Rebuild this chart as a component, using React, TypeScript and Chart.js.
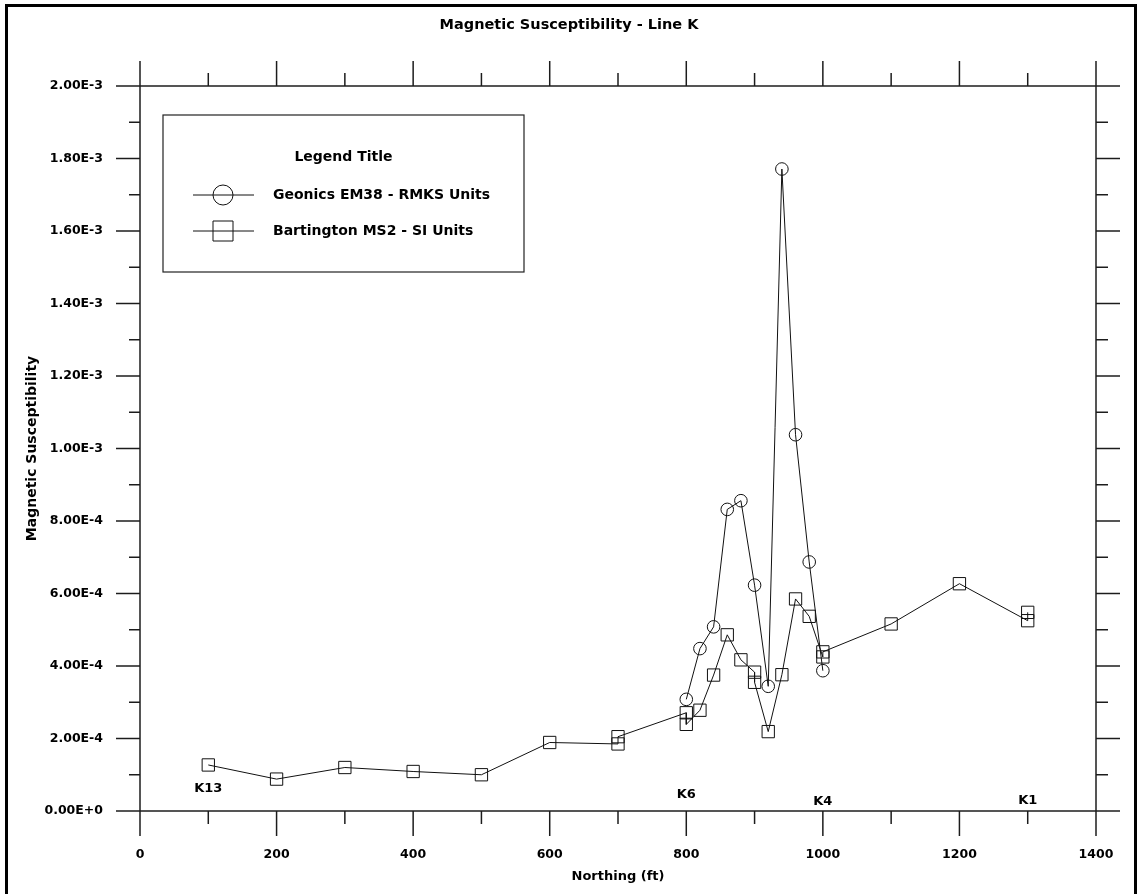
import React, { useEffect, useRef } from 'react';
import { Chart, registerables } from 'chart.js';

Chart.register(...registerables);

// ---------- text ----------
const TITLE = 'Magnetic Susceptibility - Line K';
const X_TITLE = 'Northing (ft)';
const Y_TITLE = 'Magnetic Susceptibility';
const LEGEND_TITLE = 'Legend Title';
const SERIES_NAMES = ['Geonics EM38 - RMKS Units', 'Bartington MS2 - SI Units'];

// ---------- data ----------
const EM38_X = [800, 820, 840, 860, 880, 900, 920, 940, 960, 980, 1000];
const EM38_Y = [3.08e-4, 4.48e-4, 5.08e-4, 8.32e-4, 8.56e-4, 6.23e-4, 3.44e-4, 1.771e-3, 1.038e-3, 6.87e-4, 3.87e-4];

const MS2_X = [100, 200, 300, 400, 500, 600, 700, 700, 800, 800, 820, 840, 860, 880, 900, 900, 920, 940, 960, 980, 1000, 1000, 1100, 1200, 1300, 1300];
const MS2_Y = [1.27e-4, 0.88e-4, 1.2e-4, 1.09e-4, 1.0e-4, 1.89e-4, 1.85e-4, 2.05e-4, 2.71e-4, 2.39e-4, 2.78e-4, 3.75e-4, 4.86e-4, 4.17e-4, 3.83e-4, 3.55e-4, 2.19e-4, 3.76e-4, 5.85e-4, 5.37e-4, 4.25e-4, 4.39e-4, 5.16e-4, 6.27e-4, 5.25e-4, 5.48e-4];

// station markers written under the curve
const STATION_NAMES = ['K13', 'K6', 'K4', 'K1'];
const STATION_X = [100, 800, 1000, 1300];
const STATION_Y = [0.61e-4, 0.44e-4, 0.26e-4, 0.3e-4];

// ---------- axes ----------
const X_MIN = 0;
const X_MAX = 1400;
const X_MAJOR = 200;
const X_MINOR = 100;
const Y_MIN = 0;
const Y_MAX = 0.002;
const Y_MAJOR_EVERY = 2; // every second minor step is a labelled tick
const Y_MINOR = 0.0001;

const FONT = "'DejaVu Sans', 'Liberation Sans', Arial, sans-serif";
const INK = '#111';
const CLEAR = 'rgba(0,0,0,0)';

const frameTicksPlugin = {
  id: 'frameTicks',
  beforeDatasetsDraw(chart: any) {
    const { ctx, chartArea: a, scales } = chart;
    const xs = scales.x;
    const ys = scales.y;
    ctx.save();
    ctx.strokeStyle = '#1c1c1c';
    ctx.lineWidth = 1.5;
    ctx.lineCap = 'butt';
    const seg = (x1: number, y1: number, x2: number, y2: number) => {
      ctx.beginPath();
      ctx.moveTo(x1, y1);
      ctx.lineTo(x2, y2);
      ctx.stroke();
    };
    // frame
    seg(a.left, a.top, a.right, a.top);
    seg(a.left, a.bottom, a.right, a.bottom);
    seg(a.left, a.top, a.left, a.bottom);
    seg(a.right, a.top, a.right, a.bottom);
    // x ticks (bottom outward down, top outward up)
    const nx = Math.round((X_MAX - X_MIN) / X_MINOR);
    for (let i = 0; i <= nx; i++) {
      const v = X_MIN + i * X_MINOR;
      const px = xs.getPixelForValue(v);
      const major = Math.round(v) % X_MAJOR === 0;
      const len = major ? 25 : 13;
      seg(px, a.bottom, px, a.bottom + len);
      seg(px, a.top, px, a.top - len);
    }
    // y ticks (left outward left, right outward right)
    const ny = Math.round((Y_MAX - Y_MIN) / Y_MINOR);
    for (let i = 0; i <= ny; i++) {
      const v = Y_MIN + i * Y_MINOR;
      const py = ys.getPixelForValue(v);
      const major = i % Y_MAJOR_EVERY === 0;
      seg(a.left, py, a.left - (major ? 24 : 11), py);
      seg(a.right, py, a.right + (major ? 24 : 12), py);
    }
    ctx.restore();
  },
  afterDatasetsDraw(chart: any) {
    const { ctx, scales } = chart;
    const xs = scales.x;
    const ys = scales.y;
    ctx.save();
    // station labels
    ctx.fillStyle = '#000';
    ctx.font = `bold 13px ${FONT}`;
    ctx.textAlign = 'center';
    ctx.textBaseline = 'middle';
    STATION_NAMES.forEach((name, i) => {
      ctx.fillText(name, xs.getPixelForValue(STATION_X[i]), ys.getPixelForValue(STATION_Y[i]));
    });

    // legend box
    const L = 163, T = 115, R = 524, B = 272;
    ctx.strokeStyle = '#222';
    ctx.lineWidth = 1.2;
    ctx.strokeRect(L, T, R - L, B - T);
    ctx.font = `bold 14px ${FONT}`;
    ctx.textAlign = 'center';
    ctx.fillText(LEGEND_TITLE, (L + R) / 2, 157);
    const rows = [195, 231];
    chart.data.datasets.forEach((ds: any, i: number) => {
      const y = rows[i];
      ctx.strokeStyle = INK;
      ctx.lineWidth = 1;
      ctx.beginPath();
      ctx.moveTo(193, y);
      ctx.lineTo(254, y);
      ctx.stroke();
      ctx.beginPath();
      if (ds.pointStyle === 'rect') {
        ctx.rect(213, y - 10, 20, 20);
      } else {
        ctx.arc(223, y, 10, 0, Math.PI * 2);
      }
      ctx.stroke();
      ctx.textAlign = 'left';
      ctx.fillText(ds.label, 273, y);
    });
    ctx.restore();
  },
};

export default function App() {
  const canvasRef = useRef<HTMLCanvasElement | null>(null);

  useEffect(() => {
    const canvas = canvasRef.current;
    if (!canvas) return;
    Chart.defaults.font.family = FONT;
    const tickFont = { size: 12.5, weight: 'bold' as const, family: FONT };
    // invisible tick marks that only reserve the space between axis and labels
    const spacerGrid = (len: number) => ({
      display: true,
      drawOnChartArea: false,
      drawTicks: true,
      tickLength: len,
      color: CLEAR,
      tickColor: CLEAR,
    });

    const chart = new Chart(canvas, {
      type: 'scatter',
      data: {
        datasets: [
          {
            label: SERIES_NAMES[0],
            data: EM38_X.map((x, i) => ({ x, y: EM38_Y[i] })),
            showLine: true,
            borderColor: INK,
            borderWidth: 1,
            tension: 0,
            pointStyle: 'circle',
            pointRadius: 6.3,
            pointBorderWidth: 1,
            pointBorderColor: INK,
            pointBackgroundColor: CLEAR,
            xAxisID: 'x',
            yAxisID: 'y',
          },
          {
            label: SERIES_NAMES[1],
            data: MS2_X.map((x, i) => ({ x, y: MS2_Y[i] })),
            showLine: true,
            borderColor: INK,
            borderWidth: 1,
            tension: 0,
            pointStyle: 'rect',
            pointRadius: 8.7,
            pointBorderWidth: 1,
            pointBorderColor: INK,
            pointBackgroundColor: CLEAR,
            xAxisID: 'x',
            yAxisID: 'y',
          },
        ],
      },
      options: {
        animation: false,
        responsive: false,
        devicePixelRatio: 1,
        layout: { padding: 0 },
        clip: false as any,
        plugins: {
          legend: { display: false },
          tooltip: { enabled: false },
          title: {
            display: true,
            text: TITLE,
            color: '#000',
            font: { size: 14.5, weight: 'bold', family: FONT },
            padding: { top: 16.3, bottom: 0 },
          },
        },
        scales: {
          x: {
            type: 'linear',
            position: 'bottom',
            min: X_MIN,
            max: X_MAX,
            ticks: {
              stepSize: X_MAJOR,
              padding: 0,
              color: '#000',
              font: tickFont,
              maxRotation: 0,
              autoSkip: false,
              callback: (v: any) => String(v),
            },
            grid: spacerGrid(36.5),
            border: { display: false },
            title: {
              display: true,
              text: X_TITLE,
              color: '#000',
              font: { size: 13, weight: 'bold', family: FONT },
              padding: { top: 0, bottom: 9.2 },
            },
            afterFit: (s: any) => {
              s.height = 83;
            },
          },
          x2: {
            type: 'linear',
            position: 'top',
            min: X_MIN,
            max: X_MAX,
            ticks: { display: false },
            grid: { display: false, drawTicks: false },
            border: { display: false },
            afterFit: (s: any) => {
              s.height = 52.3;
            },
          },
          y: {
            type: 'linear',
            position: 'left',
            min: Y_MIN,
            max: Y_MAX,
            ticks: {
              stepSize: Y_MINOR * Y_MAJOR_EVERY,
              padding: 0,
              color: '#000',
              font: tickFont,
              callback: (v: any) => Number(v).toExponential(2).toUpperCase(),
            },
            grid: spacerGrid(37),
            border: { display: false },
            title: {
              display: true,
              text: Y_TITLE,
              color: '#000',
              font: { size: 14, weight: 'bold', family: FONT },
              padding: { top: 23.6, bottom: 0 },
            },
            afterFit: (s: any) => {
              s.width = 140;
            },
          },
          y2: {
            type: 'linear',
            position: 'right',
            min: Y_MIN,
            max: Y_MAX,
            ticks: { display: false },
            grid: { display: false, drawTicks: false },
            border: { display: false },
            afterFit: (s: any) => {
              s.width = 42;
            },
          },
        },
      } as any,
      plugins: [frameTicksPlugin],
    });

    return () => {
      chart.destroy();
    };
  }, []);

  return (
    <div style={{ position: 'absolute', left: 0, top: 0, width: 1138, height: 894, background: '#fff', overflow: 'hidden' }}>
      <canvas ref={canvasRef} width={1138} height={894} style={{ display: 'block', width: 1138, height: 894 }} />
      <div
        style={{
          position: 'absolute',
          left: 5,
          top: 4,
          width: 1132,
          height: 920,
          boxSizing: 'border-box',
          border: '3px solid #000',
          pointerEvents: 'none',
        }}
      />
    </div>
  );
}
